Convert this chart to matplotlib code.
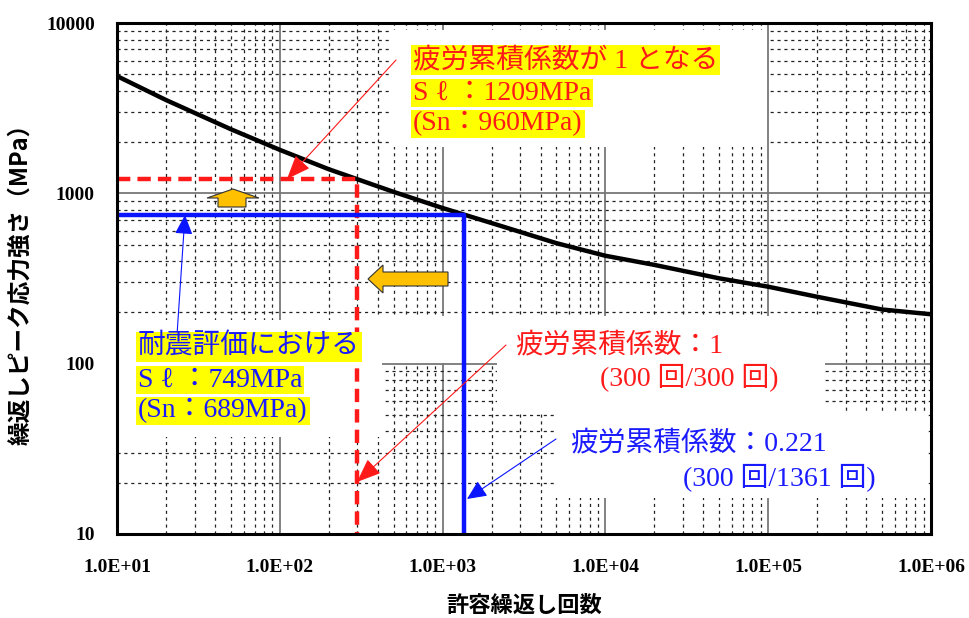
import matplotlib
matplotlib.use("Agg")
import matplotlib.pyplot as plt
import numpy as np
from matplotlib.patches import Rectangle, Polygon, FancyArrowPatch
from matplotlib.ticker import FixedLocator, FuncFormatter, LogLocator, NullFormatter

# ---- data ----
cycles = [10, 20, 50, 100, 200, 500, 1000, 2000, 5000, 1e4, 2e4, 5e4, 1e5, 2e5, 5e5, 1e6]
stress = [4880, 3530, 2380, 1800, 1385, 1020, 820, 669, 510, 430, 380, 317, 283, 247, 208, 195]
red_N, red_S = 300, 1209        # fatigue usage factor 1
blue_N, blue_S = 1361, 749      # seismic evaluation
x_ticks = [1e1, 1e2, 1e3, 1e4, 1e5, 1e6]
x_tick_labels = ["1.0E+01", "1.0E+02", "1.0E+03", "1.0E+04", "1.0E+05", "1.0E+06"]
y_ticks = [10, 100, 1000, 10000]
y_tick_labels = ["10", "100", "1000", "10000"]

W, H = 969, 618
fig = plt.figure(figsize=(W / 100, H / 100), dpi=100)
fig.patch.set_facecolor("white")

def fp(x, y):
    return (x / W, 1 - y / H)

L, R, T, B = 117, 931, 23, 534
ax = fig.add_axes([L / W, 1 - B / H, (R - L) / W, (B - T) / H])
ax.set_xscale("log")
ax.set_yscale("log")
ax.set_xlim(10, 1e6)
ax.set_ylim(10, 1e4)

ax.xaxis.set_major_locator(FixedLocator(x_ticks))
ax.xaxis.set_major_formatter(FuncFormatter(lambda v, p: x_tick_labels[x_ticks.index(v)] if v in x_ticks else ""))
ax.yaxis.set_major_locator(FixedLocator(y_ticks))
ax.yaxis.set_major_formatter(FuncFormatter(lambda v, p: y_tick_labels[y_ticks.index(v)] if v in y_ticks else ""))
ax.xaxis.set_minor_locator(LogLocator(base=10, subs=np.arange(2, 10)))
ax.yaxis.set_minor_locator(LogLocator(base=10, subs=np.arange(2, 10)))
ax.xaxis.set_minor_formatter(NullFormatter())
ax.yaxis.set_minor_formatter(NullFormatter())

ax.grid(True, which="major", color="#777777", lw=1.3, ls="-")
ax.grid(True, which="minor", color="#222222", lw=0.9, ls=(0, (2.5, 3)))
ax.set_axisbelow(True)
ax.tick_params(which="both", length=0)
ax.tick_params(axis="x", pad=18)
ax.tick_params(axis="y", pad=16)
for lab in ax.get_xticklabels() + ax.get_yticklabels():
    lab.set_fontfamily("Liberation Serif")
    lab.set_fontsize(14)
    lab.set_fontweight("bold")
for s in ax.spines.values():
    s.set_linewidth(2.2)
    s.set_color("black")
    s.set_zorder(6)

cjk = ["Noto Sans CJK JP", "DejaVu Sans"]
ax.set_xlabel("許容繰返し回数", family=cjk, fontsize=16, fontweight="bold", labelpad=13)
ax.set_ylabel("繰返しピーク応力強さ（MPa）", family=cjk, fontsize=17, fontweight="bold", labelpad=10)

# white cover boxes (text areas) - above grid, below curves
for (x0, y0, x1, y1) in [(117, 320, 382, 437), (362, 316, 825, 363), (497, 363, 825, 413),
                         (555, 412, 927, 498), (392, 30, 767, 147)]:
    ax.add_patch(Rectangle(fp(x0, y1), (x1 - x0) / W, (y1 - y0) / H,
                           transform=fig.transFigure, facecolor="white", edgecolor="none", zorder=1))

# design fatigue curve
ax.plot(cycles, stress, color="black", lw=3.2, zorder=4, solid_capstyle="butt")
# red dashed lines
ax.plot([10, red_N, red_N], [red_S, red_S, 10], color="#ff1a1a", lw=3.2, ls=(0, (3, 1.6)), zorder=4)
# blue solid lines
ax.plot([10, blue_N, blue_N], [blue_S, blue_S, 10], color="#0a14ff", lw=3.2, zorder=4)

# annotation arrows
def arrow(p0, p1, color, hl, hw, lw=0.8):
    a = FancyArrowPatch(fp(*p0), fp(*p1), transform=fig.transFigure,
                        arrowstyle=f"-|>,head_length={hl},head_width={hw}",
                        mutation_scale=1, color=color, lw=lw, zorder=7, shrinkA=0, shrinkB=0)
    fig.add_artist(a)

arrow((396, 60), (287, 179), "#ff1a1a", 15, 6)
arrow((177, 335), (185, 215), "#0a14ff", 12, 5.5)
arrow((506, 345), (357, 482), "#ff1a1a", 15, 6)
arrow((556, 439), (467, 499), "#0a14ff", 12, 5.5)

# orange block arrows
up = [(233, 189), (259, 198), (246, 198), (246, 207), (218, 207), (218, 198), (207, 198)]
left = [(368, 279), (383, 265), (383, 272), (448, 272), (448, 286), (383, 286), (383, 293)]
for poly in (up, left):
    fig.add_artist(Polygon([fp(*p) for p in poly], closed=True, transform=fig.transFigure,
                           facecolor="#FFC000", edgecolor="#333333", lw=0.8, zorder=7))

# texts
tfam = ["Liberation Serif", "Noto Sans CJK JP"]
def t(x, y, s, color, hl=False):
    kw = {}
    if hl:
        kw["bbox"] = dict(facecolor="#FFFF00", edgecolor="none", pad=1.5)
    fig.text(*fp(x, y), s, color=color, family=tfam, fontsize=20, va="center", ha="left", zorder=8, **kw)

t(413, 60, "疲労累積係数が 1 となる", "#ff1a1a", True)
t(413, 93, "S ℓ ：1209MPa", "#ff1a1a", True)
t(413, 124, "(Sn：960MPa)", "#ff1a1a", True)

t(138, 347, "耐震評価における", "#1a1aff", True)
t(138, 380, "S ℓ ：749MPa", "#1a1aff", True)
t(138, 411, "(Sn：689MPa)", "#1a1aff", True)

t(515, 345, "疲労累積係数：1", "#ff1a1a")
t(600, 377, "(300 回/300 回)", "#ff1a1a")

t(570, 443, "疲労累積係数：0.221", "#1a1aff")
t(683, 477, "(300 回/1361 回)", "#1a1aff")

fig.savefig("out.png", dpi=100, facecolor="white")
